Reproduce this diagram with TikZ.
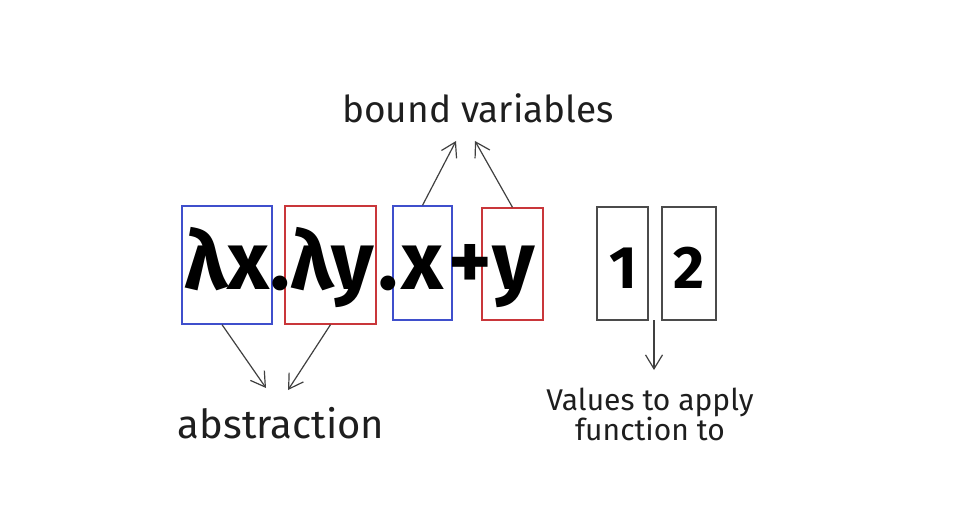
\documentclass[tikz,border=0pt]{standalone}
\usepackage{fontspec}
\setmainfont{Fira Sans}
\usetikzlibrary{arrows.meta}
\definecolor{exblue}{HTML}{3F4FCC}
\definecolor{exred}{HTML}{C9363A}
\definecolor{exink}{HTML}{1E1E1E}
\tikzset{
  vbox/.style={draw, line width=1.3pt, inner sep=0pt, minimum width=#1},
  bluebox/.style={vbox=#1, draw=exblue, minimum height=118pt},
  redbox/.style={vbox=#1, draw=exred, minimum height=118pt},
  inkbox/.style={vbox=#1, draw=exink!80, minimum height=113pt},
  big/.style={font=\fontsize{82}{82}\selectfont\bfseries, text=black, inner sep=0pt, anchor=base},
  digit/.style={font=\fontsize{60}{60}\selectfont\bfseries, text=black, inner sep=0pt, anchor=base},
  lab/.style={font=\fontsize{#1}{#1}\selectfont, text=exink, inner sep=0pt, align=center},
  arr/.style={draw=exink!85, line width=1.2pt, -{Straight Barb[length=14pt,width=17pt,line width=1.2pt]}}
}
\begin{document}
\begin{tikzpicture}[x=1pt,y=-1pt]
\useasboundingbox (0,0) rectangle (958,521);
% boxes
\node[bluebox=90pt] (b1) at (227,265) {};
\node[redbox=91pt] (r1) at (330.5,265) {};
\node[bluebox=59pt, minimum height=114pt] (b2) at (422.5,263) {};
\node[redbox=61pt, minimum height=112pt] (r2) at (512.5,264) {};
\node[inkbox=51pt] (k1) at (622.5,263.5) {};
\node[inkbox=54pt] (k2) at (689,263.5) {};
% formula glyphs
\node[big] (t1) at (227,290) {λx};
\node[big] (d1) at (280,290) {.};
\node[big] (t2) at (332,290) {λy};
\node[big] (d2) at (388,290) {.};
\node[big] (t3) at (422,290) {x};
\node[big] (t4) at (470,290) {+};
\node[big] (t5) at (514,290) {y};
\node[digit] (n1) at (623,288) {1};
\node[digit] (n2) at (689,288) {2};
% labels
\node[lab=37] (bv) at (478,108) {bound variables};
\node[lab=40] (ab) at (281,423) {abstraction};
\node[lab=30] (va) at (650,414) {Values to apply\\function to};
% arrow end points
\coordinate (abs1) at (266,388);
\coordinate (abs2) at (288,390);
\coordinate (bv1) at (456,141);
\coordinate (bv2) at (475,141);
\coordinate (vstart) at (654,320);
\coordinate (vend) at (654,370);
% arrows
\draw[arr] ([xshift=-5pt]b1.south) -- (abs1);
\draw[arr] (r1.south) -- (abs2);
\draw[arr] (b2.north) -- (bv1);
\draw[arr] (r2.north) -- (bv2);
\draw[arr] (vstart) -- (vend);
\end{tikzpicture}
\end{document}
